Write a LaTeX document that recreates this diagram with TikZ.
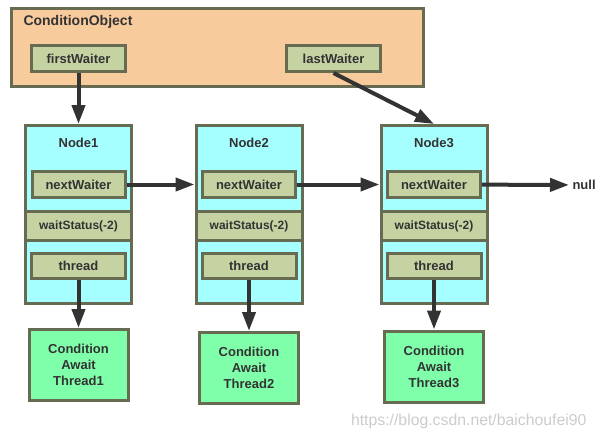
\documentclass[tikz,border=0pt]{standalone}
\usepackage{fontspec}
\setmainfont{Liberation Sans}
\usepackage{xcolor}
\usetikzlibrary{arrows.meta,positioning}

\definecolor{edgeolive}{HTML}{666B52}
\definecolor{condorange}{HTML}{F8CB9D}
\definecolor{fieldgreen}{HTML}{C5D3A3}
\definecolor{nodecyan}{HTML}{A6FFFF}
\definecolor{threadgreen}{HTML}{80FFAA}
\definecolor{inkgray}{HTML}{333333}

\begin{document}
\begin{tikzpicture}[x=1pt,y=-1pt,
		font=\fontsize{13}{16}\selectfont\bfseries,
		text=inkgray,
		box/.style={draw=edgeolive,line width=3pt,inner sep=0pt},
		field/.style={box,fill=fieldgreen,minimum width=93pt,minimum height=26pt},
		waitnode/.style={box,fill=nodecyan,minimum width=106pt,minimum height=178pt},
		threadbox/.style={box,fill=threadgreen,minimum width=99pt,minimum height=71pt,align=center},
		link/.style={line width=4pt,draw=inkgray,-{Triangle[length=19pt,width=13pt]}}]
	\useasboundingbox (0,0) rectangle (599,439);

	% the condition object
	\node[box,fill=condorange,minimum width=412pt,minimum height=78pt] (cond) at (217.5,47.5) {};
	\node[font=\fontsize{14}{16}\selectfont\bfseries,anchor=west] (condtitle) at (20,22) {ConditionObject};
	\node[field,minimum width=94pt] (first) at (78.5,58.5) {firstWaiter};
	\node[field,minimum width=94pt] (last) at (333.5,58.5) {lastWaiter};

	% the waiting nodes
	\foreach \i/\x/\y in {1/78.5/365,2/249/368,3/434/366.5} {
		\node[waitnode] (node\i) at (\x,214.5) {};
		\node (title\i) at (\x,143) {Node\i};
		\node[field] (next\i) at (\x,184.5) {nextWaiter};
		\node[box,fill=fieldgreen,minimum width=106pt,minimum height=29pt,
			font=\fontsize{12}{14}\selectfont\bfseries] (status\i) at (\x,226) {waitStatus(-2)};
		\node[field,minimum width=94pt,minimum height=25pt] (thread\i) at (\x,266) {thread};
		\node[threadbox] (await\i) at (\x,\y) {Condition\\Await\\Thread\i};
		\draw[link] (thread\i) -- (await\i);
	}
	\node[anchor=west] (null) at (569,185) {null};
	\node[font=\fontsize{15.8}{18}\selectfont,text=black!20,anchor=east] (mark) at (590,421) {https://blog.csdn.net/baichoufei90};

	\draw[link] (first) -- (node1);
	\draw[link] (last.south) -- (node3.north);
	\draw[link] (next1) -- (next1 -| node2.west);
	\draw[link] (next2) -- (next2 -| node3.west);
	\draw[link] (next3) -- (null);
\end{tikzpicture}
\end{document}
